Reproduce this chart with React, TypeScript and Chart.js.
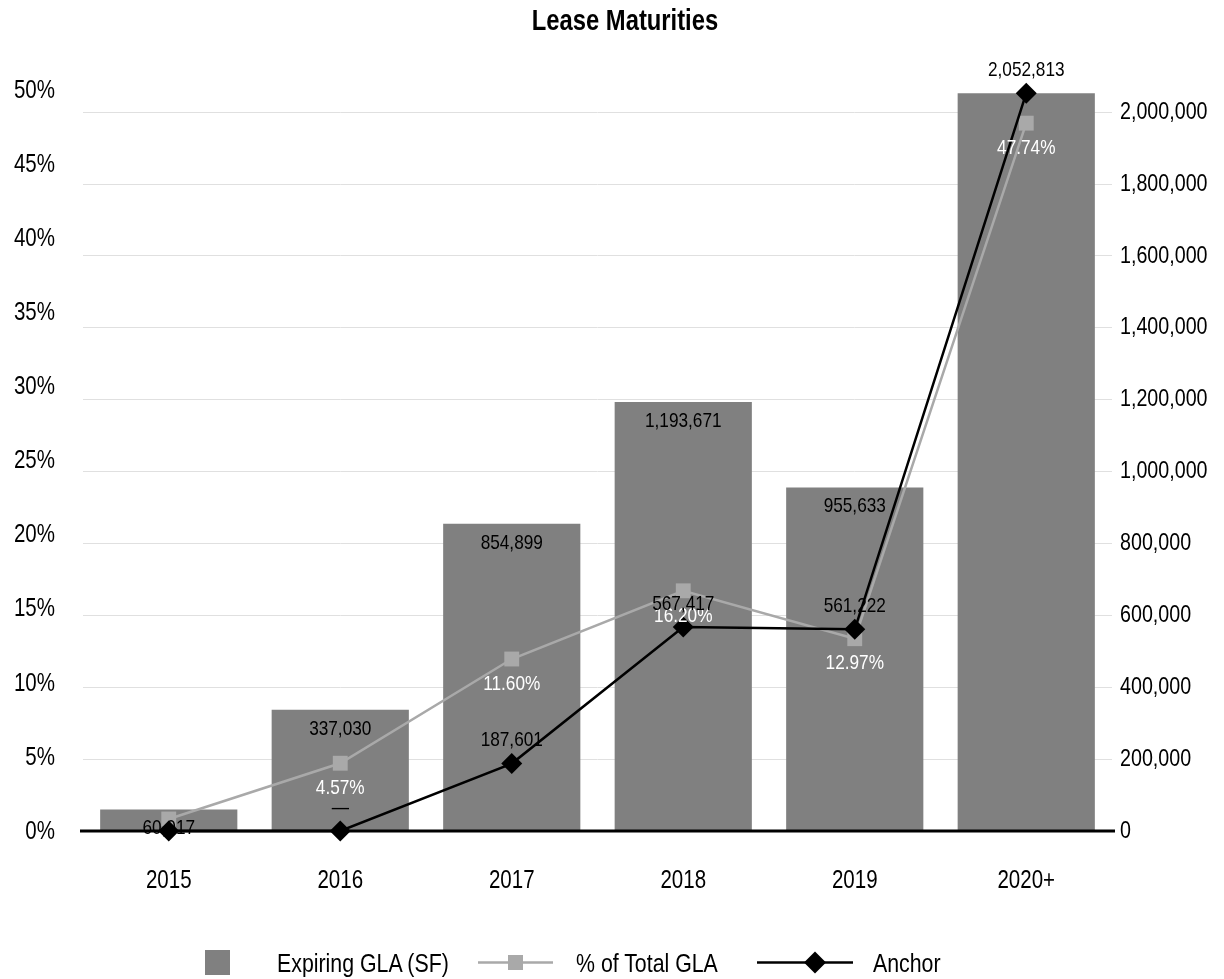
import React, { useEffect, useRef } from "react";
import { Chart, registerables } from "chart.js";

Chart.register(...registerables);

const categories = ["2015", "2016", "2017", "2018", "2019", "2020+"];
const expiringGLA = [60017, 337030, 854899, 1193671, 955633, 2052813];
const pctTotalGLA = [0.81, 4.57, 11.6, 16.2, 12.97, 47.74];
const anchorGLA = [0, 0, 187601, 567417, 561222, 2052813];
const showBarLabel = [true, true, true, true, true, false];
const showPctLabel = [false, true, true, true, true, true];
const showAnchorLabel = [false, true, true, true, true, true];
const pctTicks = [0, 5, 10, 15, 20, 25, 30, 35, 40, 45, 50];
const glaTicks = [0, 200000, 400000, 600000, 800000, 1000000, 1200000, 1400000, 1600000, 1800000, 2000000];
const titleText = "Lease Maturities";

const FONT = "'Liberation Sans', Arial, sans-serif";
const NARROW = 0.82;
const BAR_COLOR = "#808080";
const PCT_COLOR = "#a9a9a9";
const ANCHOR_COLOR = "#000000";

const fmt = (v: number) => v.toLocaleString("en-US");
const fmtAnchor = (v: number) => (v === 0 ? "\u2014" : fmt(v));
const fmtPct = (v: number) => String(v) + "%";

function narrowText(
  ctx: CanvasRenderingContext2D,
  text: string,
  x: number,
  y: number,
  align: CanvasTextAlign,
  font: string,
  color: string
) {
  ctx.save();
  ctx.font = font;
  ctx.fillStyle = color;
  ctx.textAlign = align;
  ctx.textBaseline = "middle";
  ctx.translate(x, y);
  ctx.scale(NARROW, 1);
  ctx.fillText(text, 0, 0);
  ctx.restore();
}

const zeroLinePlugin = {
  id: "zeroLine",
  afterDatasetDraw(chart: any, args: any) {
    if (args.index !== 0) return;
    const { ctx, chartArea, scales } = chart;
    const y = scales.yR.getPixelForValue(0);
    ctx.save();
    ctx.strokeStyle = "#000";
    ctx.lineWidth = 3;
    ctx.beginPath();
    ctx.moveTo(chartArea.left - 3, y);
    ctx.lineTo(chartArea.right + 3, y);
    ctx.stroke();
    ctx.restore();
  },
};

const labelPlugin = {
  id: "valueLabels",
  afterDatasetsDraw(chart: any) {
    const { ctx } = chart;
    const f = `21px ${FONT}`;
    chart.getDatasetMeta(0).data.forEach((el: any, i: number) => {
      if (showBarLabel[i]) narrowText(ctx, fmt(expiringGLA[i]), el.x, el.y + 19, "center", f, "#000");
    });
    chart.getDatasetMeta(1).data.forEach((el: any, i: number) => {
      if (showPctLabel[i]) narrowText(ctx, pctTotalGLA[i].toFixed(2) + "%", el.x, el.y + 25, "center", f, "#ffffff");
    });
    chart.getDatasetMeta(2).data.forEach((el: any, i: number) => {
      if (showAnchorLabel[i]) narrowText(ctx, fmtAnchor(anchorGLA[i]), el.x, el.y - 23, "center", f, "#000");
    });
  },
};

const axisTextPlugin = {
  id: "axisText",
  afterDraw(chart: any) {
    const { ctx, chartArea, scales } = chart;
    const tf = `25px ${FONT}`;
    const rf = `24px ${FONT}`;
    categories.forEach((c, i) => {
      narrowText(ctx, c, scales.x.getPixelForValue(i), chartArea.bottom + 50, "center", tf, "#000");
    });
    pctTicks.forEach((v) => {
      narrowText(ctx, fmtPct(v), chartArea.left - 28, scales.yL.getPixelForValue(v) + 1, "right", tf, "#000");
    });
    glaTicks.forEach((v) => {
      narrowText(ctx, fmt(v), chartArea.right + 8, scales.yR.getPixelForValue(v), "left", rf, "#000");
    });
    narrowText(ctx, titleText, 617, 13.5, "center", `bold 29px ${FONT}`, "#000");
  },
};

export default function App() {
  const canvasRef = useRef<HTMLCanvasElement | null>(null);

  useEffect(() => {
    const prevMargin = document.body.style.margin;
    document.body.style.margin = "0";
    if (!canvasRef.current) return;
    const chart = new Chart(canvasRef.current, {
      data: {
        labels: categories,
        datasets: [
          {
            type: "bar",
            label: "Expiring GLA (SF)",
            data: expiringGLA,
            backgroundColor: BAR_COLOR,
            yAxisID: "yR",
            categoryPercentage: 0.8,
            barPercentage: 1,
            order: 3,
          },
          {
            type: "line",
            label: "% of Total GLA",
            data: pctTotalGLA,
            borderColor: PCT_COLOR,
            backgroundColor: PCT_COLOR,
            borderWidth: 2.5,
            pointStyle: "rect",
            pointRadius: 10.5,
            pointBorderWidth: 0,
            yAxisID: "yL",
            tension: 0,
            clip: false,
            order: 2,
          },
          {
            type: "line",
            label: "Anchor",
            data: anchorGLA,
            borderColor: ANCHOR_COLOR,
            backgroundColor: ANCHOR_COLOR,
            borderWidth: 2.5,
            pointStyle: "rectRot",
            pointRadius: 10.5,
            pointBorderWidth: 0,
            yAxisID: "yR",
            tension: 0,
            clip: false,
            order: 1,
          },
        ],
      } as any,
      options: {
        animation: false,
        responsive: false,
        maintainAspectRatio: false,
        layout: { padding: { left: 0, right: 0, top: 52, bottom: 0 } },
        plugins: {
          legend: { display: false },
          tooltip: { enabled: false },
          title: { display: false },
        },
        scales: {
          x: {
            grid: { display: false, drawTicks: false },
            border: { display: false },
            ticks: { display: false },
            afterFit: (axis: any) => {
              axis.height = 140;
            },
          },
          yL: {
            position: "left",
            min: 0,
            max: 52,
            grid: { display: false, drawTicks: false },
            border: { display: false },
            ticks: { display: false },
            afterFit: (axis: any) => {
              axis.width = 75;
            },
          },
          yR: {
            position: "right",
            min: 0,
            max: 2145000,
            grid: { color: "#e0e0e0", lineWidth: 1, drawTicks: false },
            border: { display: false },
            afterBuildTicks: (axis: any) => {
              axis.ticks = glaTicks.map((v) => ({ value: v }));
            },
            ticks: { display: false },
            afterFit: (axis: any) => {
              axis.width = 104;
            },
          },
        },
      } as any,
      plugins: [zeroLinePlugin, labelPlugin, axisTextPlugin],
    });
    return () => {
      chart.destroy();
      document.body.style.margin = prevMargin;
    };
  }, []);

  const legendText: React.CSSProperties = {
    position: "absolute",
    top: -2.5,
    height: 30,
    lineHeight: "30px",
    fontFamily: FONT,
    fontSize: 26,
    color: "#000",
    whiteSpace: "nowrap",
    transform: `scaleX(${NARROW})`,
    transformOrigin: "left center",
  };

  return (
    <div style={{ position: "relative", width: 1224, height: 979, overflow: "hidden", background: "#fff" }}>
      <div style={{ position: "absolute", left: 8, top: 8, width: 1208, height: 963 }}>
        <canvas ref={canvasRef} width={1208} height={963} style={{ display: "block" }} />
        <div style={{ position: "absolute", left: 0, top: 942, width: 1208, height: 25 }}>
          <div style={{ position: "absolute", left: 197, top: 0, width: 25, height: 25, background: BAR_COLOR }} />
          <span style={{ ...legendText, left: 269 }}>Expiring GLA (SF)</span>
          <svg style={{ position: "absolute", left: 470, top: 0 }} width={75} height={25}>
            <line x1={0} y1={12.5} x2={75} y2={12.5} stroke={PCT_COLOR} strokeWidth={2.5} />
            <rect x={30} y={5} width={15} height={15} fill={PCT_COLOR} />
          </svg>
          <span style={{ ...legendText, left: 568 }}>% of Total GLA</span>
          <svg style={{ position: "absolute", left: 749, top: 0 }} width={96} height={25}>
            <line x1={0} y1={12.5} x2={96} y2={12.5} stroke={ANCHOR_COLOR} strokeWidth={2.5} />
            <polygon points="58,1.5 69,12.5 58,23.5 47,12.5" fill={ANCHOR_COLOR} />
          </svg>
          <span style={{ ...legendText, left: 865 }}>Anchor</span>
        </div>
      </div>
    </div>
  );
}
